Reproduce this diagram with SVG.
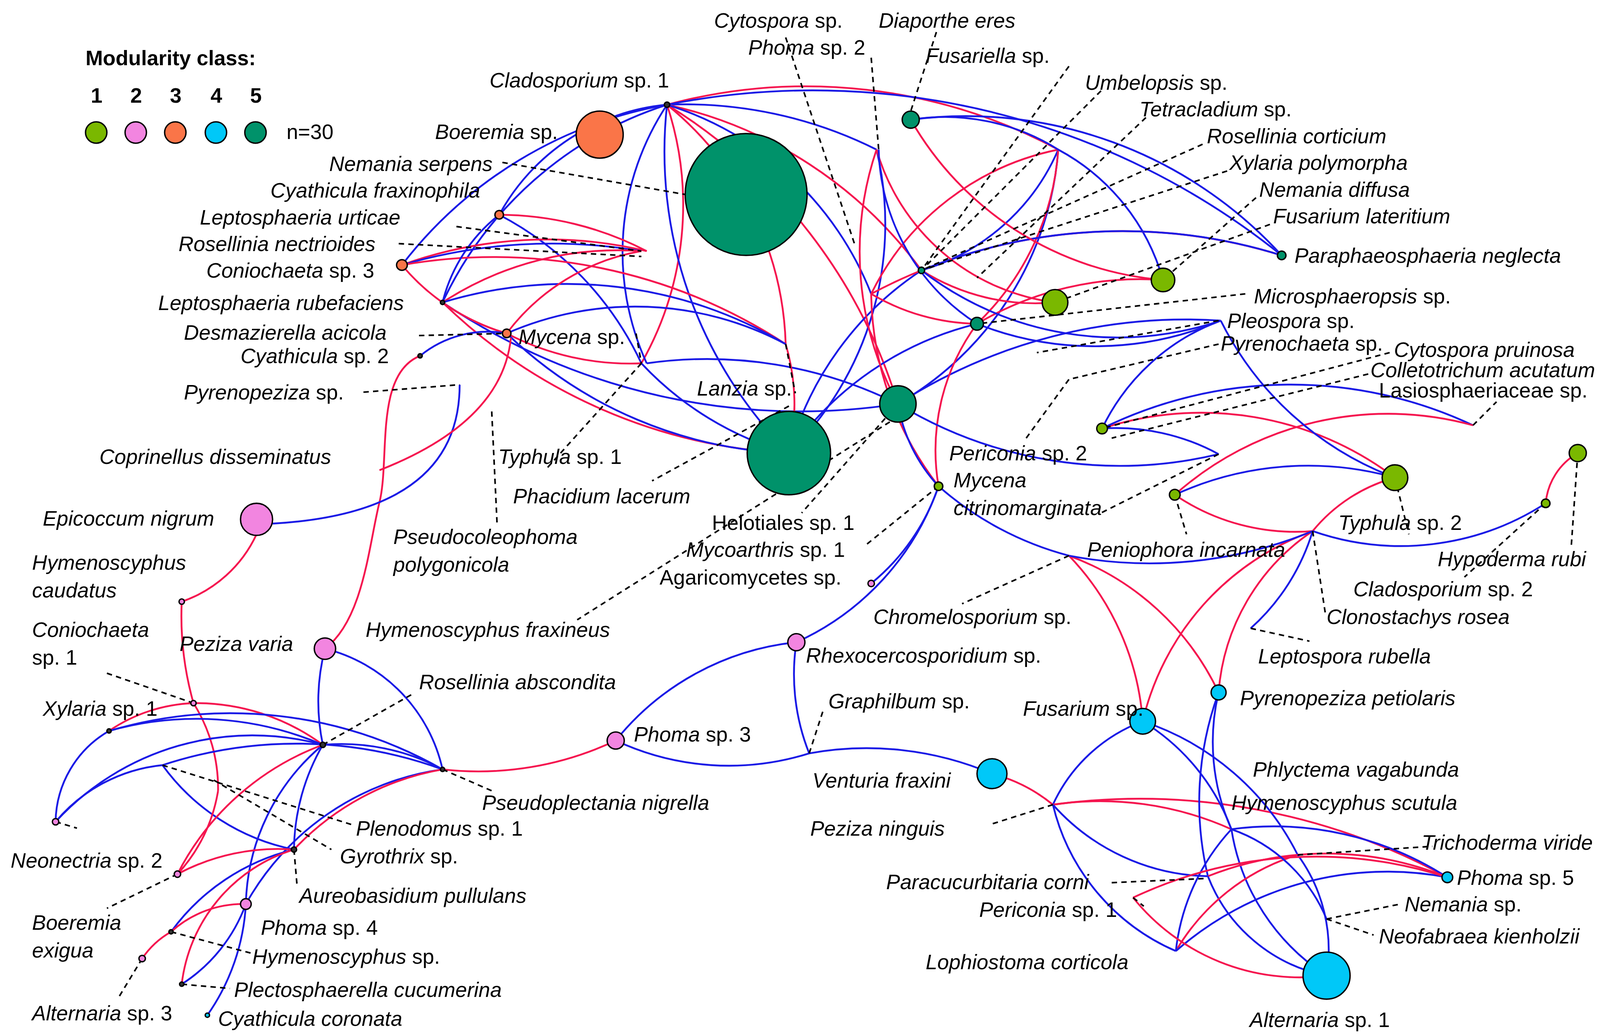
<svg xmlns="http://www.w3.org/2000/svg" width="4269" height="2653" viewBox="0 0 4269 2653">
<style>
text{font-family:"Liberation Sans",Arial,sans-serif;font-size:19.5px;fill:#000}
.i{font-style:italic}
.b{fill:none;stroke:#1a1ae6;stroke-width:1.7}
.r{fill:none;stroke:#f5154f;stroke-width:1.7}
.d{fill:none;stroke:#000;stroke-width:1.5;stroke-dasharray:5 4}
circle{stroke:#000;stroke-width:1.3}
.c1{fill:#7ab800}.c2{fill:#f285e0}.c3{fill:#fa7548}.c4{fill:#00c8f8}.c5{fill:#00926a}.ck{fill:#333}
</style>
<rect width="4269" height="2653" fill="#fff"/>
<g transform="scale(2.7365)">
<g id="legend">
<text x="80" y="61" font-weight="bold">Modularity class:</text>
<text x="85" y="96" font-weight="bold">1</text><text x="122" y="96" font-weight="bold">2</text><text x="159" y="96" font-weight="bold">3</text><text x="197" y="96" font-weight="bold">4</text><text x="234" y="96" font-weight="bold">5</text>
<circle class="c1" cx="90" cy="124" r="10"/><circle class="c2" cx="127" cy="124" r="10"/><circle class="c3" cx="164" cy="124" r="10"/><circle class="c4" cx="202" cy="124" r="10"/><circle class="c5" cx="239" cy="124" r="10"/>
<text x="268" y="130">n=30</text>
</g>
<g id="connectors">
<path class="b" d="M624 98 A200 200 0 0 0 467 201"/>
<path class="b" d="M624 98 A400 400 0 0 0 376 248"/>
<path class="b" d="M624 98 A350 350 0 0 0 414 283"/>
<path class="r" d="M624 98 A300 300 0 0 1 600 340"/>
<path class="b" d="M624 98 A250 250 0 0 0 605 340"/>
<path class="r" d="M624 98 A300 300 0 0 1 735 322"/>
<path class="b" d="M624 98 A400 400 0 0 1 820 140"/>
<path class="r" d="M624 98 A500 500 0 0 1 990 140"/>
<path class="b" d="M624 98 A700 700 0 0 1 1199 239"/>
<path class="r" d="M624 98 A400 400 0 0 1 862 253"/>
<path class="b" d="M624 98 A400 400 0 0 0 738 424"/>
<path class="r" d="M624 98 A500 500 0 0 1 840 378"/>
<path class="b" d="M624 98 A300 300 0 0 1 815 275"/>
<path class="r" d="M467 201 A300 300 0 0 1 605 235"/>
<path class="b" d="M467 201 A300 300 0 0 1 600 340"/>
<path class="r" d="M376 248 A400 400 0 0 1 605 235"/>
<path class="b" d="M376 248 A500 500 0 0 1 600 235"/>
<path class="r" d="M376 248 A500 500 0 0 1 735 322"/>
<path class="r" d="M376 248 A200 200 0 0 0 474 312"/>
<path class="r" d="M414 283 A300 300 0 0 1 600 235"/>
<path class="b" d="M414 283 A400 400 0 0 1 735 322"/>
<path class="r" d="M414 283 A500 500 0 0 0 738 424"/>
<path class="b" d="M414 283 A600 600 0 0 0 840 378"/>
<path class="r" d="M414 283 A200 200 0 0 0 474 312"/>
<path class="r" d="M474 312 A200 200 0 0 1 600 235"/>
<path class="b" d="M474 312 A300 300 0 0 1 735 322"/>
<path class="r" d="M474 312 A250 250 0 0 0 600 340"/>
<path class="b" d="M474 312 A400 400 0 0 0 738 424"/>
<path class="b" d="M467 201 A150 150 0 0 0 414 283"/>
<path class="b" d="M393 333 A100 100 0 0 1 474 312"/>
<path class="r" d="M393 333 C350 350 365 430 355 470 S340 580 304 607"/>
<path class="b" d="M430 360 Q430 480 255 490"/>
<path class="r" d="M478 316 Q470 395 355 440"/>
<path class="b" d="M600 340 A300 300 0 0 0 738 424"/>
<path class="b" d="M605 340 A400 400 0 0 1 840 378"/>
<path class="r" d="M735 322 A200 200 0 0 1 738 424"/>
<path class="b" d="M820 140 A300 300 0 0 1 738 424"/>
<path class="b" d="M862 253 A300 300 0 0 0 738 424"/>
<path class="b" d="M914 303 A300 300 0 0 0 738 424"/>
<path class="b" d="M990 140 A300 300 0 0 1 840 378"/>
<path class="r" d="M820 140 A300 300 0 0 0 840 378"/>
<path class="r" d="M990 140 A250 250 0 0 0 815 275"/>
<path class="b" d="M990 140 A200 200 0 0 1 862 253"/>
<path class="r" d="M990 140 A250 250 0 0 1 914 303"/>
<path class="b" d="M990 140 A200 200 0 0 1 1088 262"/>
<path class="b" d="M852 112 A400 400 0 0 1 1199 239"/>
<path class="b" d="M852 112 A200 200 0 0 1 990 140"/>
<path class="r" d="M815 275 A500 500 0 0 1 1199 239"/>
<path class="b" d="M862 253 A500 500 0 0 1 1199 239"/>
<path class="r" d="M815 275 A200 200 0 0 0 914 303"/>
<path class="r" d="M862 253 A200 200 0 0 0 987 283"/>
<path class="r" d="M914 303 A300 300 0 0 1 1088 262"/>
<path class="b" d="M914 303 A300 300 0 0 0 1142 300"/>
<path class="b" d="M862 253 A300 300 0 0 0 1142 300"/>
<path class="b" d="M840 378 A500 500 0 0 1 1142 300"/>
<path class="r" d="M815 275 A300 300 0 0 0 878 455"/>
<path class="b" d="M840 378 A150 150 0 0 0 878 455"/>
<path class="r" d="M914 303 A200 200 0 0 0 878 455"/>
<path class="r" d="M820 140 A200 200 0 0 0 987 283"/>
<path class="b" d="M822 140 A200 200 0 0 0 914 303"/>
<path class="r" d="M852 112 A300 300 0 0 0 1088 262"/>
<path class="b" d="M840 378 A400 400 0 0 0 1140 425"/>
<path class="b" d="M878 455 A300 300 0 0 0 1000 520"/>
<path class="r" d="M1000 520 A250 250 0 0 1 1069 675"/>
<path class="r" d="M1000 520 A250 250 0 0 1 1140 648"/>
<path class="b" d="M878 455 A250 250 0 0 1 745 601"/>
<path class="b" d="M878 455 A200 200 0 0 1 815 546"/>
<path class="b" d="M745 601 A250 250 0 0 0 576 693"/>
<path class="b" d="M745 601 A200 200 0 0 0 757 705"/>
<path class="b" d="M576 693 A250 250 0 0 0 757 705"/>
<path class="b" d="M757 705 A300 300 0 0 1 928 724"/>
<path class="r" d="M576 693 A300 300 0 0 1 414 720"/>
<path class="r" d="M985 753 A150 150 0 0 0 928 724"/>
<path class="b" d="M985 753 A150 150 0 0 1 1069 675"/>
<path class="r" d="M1031 401 A300 300 0 0 1 1305 447"/>
<path class="b" d="M1031 401 A200 200 0 0 1 1140 425"/>
<path class="b" d="M1031 401 A400 400 0 0 1 1378 398"/>
<path class="b" d="M1099 463 A300 300 0 0 1 1305 447"/>
<path class="r" d="M1099 463 A300 300 0 0 1 1378 398"/>
<path class="r" d="M1099 463 A200 200 0 0 0 1228 497"/>
<path class="r" d="M1228 497 A150 150 0 0 1 1305 447"/>
<path class="r" d="M1228 497 A200 200 0 0 0 1140 648"/>
<path class="b" d="M1228 497 A250 250 0 0 0 1446 471"/>
<path class="r" d="M1446 471 A60 60 0 0 1 1476 424"/>
<path class="r" d="M1228 497 A250 250 0 0 0 1069 675"/>
<path class="b" d="M1142 300 A200 200 0 0 0 1031 401"/>
<path class="b" d="M1142 300 A300 300 0 0 0 1305 447"/>
<path class="b" d="M1000 520 A400 400 0 0 0 1228 497"/>
<path class="b" d="M1228 497 A200 200 0 0 1 1170 588"/>
<path class="r" d="M985 753 A300 300 0 0 1 1152 776"/>
<path class="r" d="M985 753 A600 600 0 0 1 1354 821"/>
<path class="b" d="M985 753 A200 200 0 0 0 1100 890"/>
<path class="b" d="M985 753 A200 200 0 0 0 1130 820"/>
<path class="b" d="M1069 675 A200 200 0 0 1 1152 776"/>
<path class="b" d="M1069 675 A250 250 0 0 1 1214 800"/>
<path class="b" d="M1140 648 A200 200 0 0 0 1152 776"/>
<path class="b" d="M1140 648 A300 300 0 0 0 1130 820"/>
<path class="b" d="M1152 776 A300 300 0 0 1 1354 821"/>
<path class="b" d="M1152 776 A200 200 0 0 0 1241 913"/>
<path class="r" d="M1130 820 A300 300 0 0 1 1354 821"/>
<path class="b" d="M1130 820 A150 150 0 0 0 1241 913"/>
<path class="r" d="M1100 890 A200 200 0 0 1 1214 800"/>
<path class="b" d="M1100 890 A300 300 0 0 1 1354 821"/>
<path class="b" d="M1214 800 A150 150 0 0 1 1241 913"/>
<path class="b" d="M1152 776 A200 200 0 0 0 1100 890"/>
<path class="r" d="M1060 840 A200 200 0 0 0 1241 913"/>
<path class="r" d="M1060 840 A400 400 0 0 1 1354 821"/>
<path class="b" d="M1152 776 A150 150 0 0 1 1241 860"/>
<path class="b" d="M304 607 A200 200 0 0 0 302 697"/>
<path class="b" d="M304 607 A150 150 0 0 1 414 720"/>
<path class="b" d="M302 697 A200 200 0 0 1 414 720"/>
<path class="r" d="M181 658 A150 150 0 0 0 102 684"/>
<path class="r" d="M181 658 A200 200 0 0 1 302 697"/>
<path class="r" d="M181 658 A150 150 0 0 1 204 740"/>
<path class="b" d="M102 684 A100 100 0 0 0 52 769"/>
<path class="b" d="M102 684 A300 300 0 0 1 302 697"/>
<path class="b" d="M102 684 A400 400 0 0 1 414 720"/>
<path class="b" d="M52 769 A250 250 0 0 1 302 697"/>
<path class="b" d="M152 716 A400 400 0 0 1 414 720"/>
<path class="b" d="M152 716 A200 200 0 0 0 275 795"/>
<path class="b" d="M302 697 A200 200 0 0 0 275 795"/>
<path class="b" d="M302 697 A200 200 0 0 0 230 846"/>
<path class="b" d="M414 720 A250 250 0 0 0 230 846"/>
<path class="r" d="M414 720 A250 250 0 0 0 275 795"/>
<path class="r" d="M275 795 A200 200 0 0 0 166 818"/>
<path class="b" d="M275 795 A200 200 0 0 0 160 872"/>
<path class="r" d="M230 846 A100 100 0 0 0 160 872"/>
<path class="b" d="M230 846 A200 200 0 0 1 194 950"/>
<path class="b" d="M230 846 A150 150 0 0 1 170 921"/>
<path class="r" d="M160 872 A80 80 0 0 0 133 897"/>
<path class="r" d="M170 563 A300 300 0 0 0 181 658"/>
<path class="r" d="M240 500 A120 120 0 0 1 170 563"/>
<path class="r" d="M166 818 A150 150 0 0 0 204 740"/>
<path class="r" d="M166 818 A250 250 0 0 1 302 697"/>
<path class="b" d="M52 769 A150 150 0 0 1 152 716"/>
<path class="r" d="M275 795 A150 150 0 0 0 170 921"/>
<path class="d" d="M470 152 L641 182"/>
<path class="d" d="M427 212 L600 235"/>
<path class="d" d="M373 228 L600 240"/>
<path class="d" d="M392 314 L474 312"/>
<path class="d" d="M340 367 L430 360"/>
<path class="d" d="M460 385 L465 490"/>
<path class="d" d="M735 35 L800 230"/>
<path class="d" d="M815 54 L822 140"/>
<path class="d" d="M876 30 L852 104"/>
<path class="d" d="M1000 62 L862 253"/>
<path class="d" d="M1030 85 L862 253"/>
<path class="d" d="M1072 110 L914 260"/>
<path class="d" d="M1125 135 L862 253"/>
<path class="d" d="M1148 160 L862 253"/>
<path class="d" d="M1175 185 L1088 262"/>
<path class="d" d="M1188 210 L987 283"/>
<path class="d" d="M1165 275 L914 303"/>
<path class="d" d="M1140 300 L970 330"/>
<path class="d" d="M1140 322 L1000 355"/>
<path class="d" d="M1300 330 L1031 401"/>
<path class="d" d="M1280 350 L1040 410"/>
<path class="d" d="M1378 398 L1400 376"/>
<path class="d" d="M1000 355 L960 410"/>
<path class="d" d="M1140 425 L1030 480"/>
<path class="d" d="M1305 447 L1318 500"/>
<path class="d" d="M1476 424 L1470 510"/>
<path class="d" d="M1446 471 L1370 540"/>
<path class="d" d="M1228 497 L1240 575"/>
<path class="d" d="M1099 463 L1110 500"/>
<path class="d" d="M1000 520 L900 565"/>
<path class="d" d="M1170 588 L1225 600"/>
<path class="d" d="M600 340 L510 440"/>
<path class="d" d="M595 312 L600 340"/>
<path class="d" d="M735 322 L744 368"/>
<path class="d" d="M738 380 L610 450"/>
<path class="d" d="M840 378 L750 480"/>
<path class="d" d="M840 390 L540 580"/>
<path class="d" d="M878 455 L810 510"/>
<path class="d" d="M757 705 L770 665"/>
<path class="d" d="M100 630 L181 658"/>
<path class="d" d="M302 697 L385 650"/>
<path class="d" d="M414 720 L460 740"/>
<path class="d" d="M152 716 L330 772"/>
<path class="d" d="M200 730 L310 795"/>
<path class="d" d="M275 795 L278 830"/>
<path class="d" d="M166 818 L100 850"/>
<path class="d" d="M160 872 L235 892"/>
<path class="d" d="M133 897 L110 935"/>
<path class="d" d="M170 921 L215 925"/>
<path class="d" d="M52 769 L72 775"/>
<path class="d" d="M985 753 L925 772"/>
<path class="d" d="M1040 826 L1130 822"/>
<path class="d" d="M1060 840 L1070 848"/>
<path class="d" d="M1214 800 L1340 792"/>
<path class="d" d="M1241 860 L1310 846"/>
<path class="d" d="M1241 860 L1285 875"/>
</g>
<g id="nodes">
<circle class="ck" cx="624" cy="98" r="2.5"/>
<circle class="c3" cx="561" cy="126" r="22"/>
<circle class="c5" cx="698" cy="182" r="57"/>
<circle class="c3" cx="467" cy="201" r="4"/>
<circle class="c3" cx="376" cy="248" r="5"/>
<circle class="ck" cx="414" cy="283" r="2"/>
<circle class="c3" cx="474" cy="312" r="4"/>
<circle class="ck" cx="393" cy="333" r="2"/>
<circle class="c2" cx="240" cy="486" r="15"/>
<circle class="c2" cx="170" cy="563" r="2.5"/>
<circle class="c2" cx="304" cy="607" r="10"/>
<circle class="c2" cx="181" cy="658" r="2.5"/>
<circle class="ck" cx="102" cy="684" r="2"/>
<circle class="c2" cx="52" cy="769" r="3"/>
<circle class="ck" cx="302" cy="697" r="2.5"/>
<circle class="ck" cx="414" cy="720" r="2"/>
<circle class="ck" cx="275" cy="795" r="2.5"/>
<circle class="c2" cx="166" cy="818" r="3"/>
<circle class="c2" cx="230" cy="846" r="5"/>
<circle class="ck" cx="160" cy="872" r="2"/>
<circle class="c2" cx="133" cy="897" r="3"/>
<circle class="ck" cx="170" cy="921" r="2"/>
<circle class="c4" cx="194" cy="950" r="2"/>
<circle class="c2" cx="576" cy="693" r="8"/>
<circle class="c2" cx="745" cy="601" r="8"/>
<circle class="c2" cx="815" cy="546" r="3"/>
<circle class="c5" cx="738" cy="424" r="39"/>
<circle class="c5" cx="840" cy="378" r="17"/>
<circle class="c1" cx="878" cy="455" r="4"/>
<circle class="c5" cx="852" cy="112" r="8"/>
<circle class="c5" cx="862" cy="253" r="3"/>
<circle class="c5" cx="1199" cy="239" r="4"/>
<circle class="c1" cx="987" cy="283" r="12"/>
<circle class="c1" cx="1088" cy="262" r="11"/>
<circle class="c5" cx="914" cy="303" r="6"/>
<circle class="c1" cx="1031" cy="401" r="5"/>
<circle class="c1" cx="1099" cy="463" r="5"/>
<circle class="c1" cx="1305" cy="447" r="12"/>
<circle class="c1" cx="1476" cy="424" r="8"/>
<circle class="c1" cx="1446" cy="471" r="4"/>
<circle class="c4" cx="1069" cy="675" r="12"/>
<circle class="c4" cx="1140" cy="648" r="7"/>
<circle class="c4" cx="928" cy="724" r="14"/>
<circle class="c4" cx="1354" cy="821" r="5"/>
<circle class="c4" cx="1241" cy="913" r="22"/>
</g>
<g id="labels" class="i">
<text x="458" y="82">Cladosporium<tspan font-style="normal"> sp. 1</tspan></text>
<text x="407" y="130">Boeremia<tspan font-style="normal"> sp.</tspan></text>
<text x="308" y="160">Nemania serpens</text>
<text x="253" y="185">Cyathicula fraxinophila</text>
<text x="187" y="210">Leptosphaeria urticae</text>
<text x="167" y="235">Rosellinia nectrioides</text>
<text x="193" y="260">Coniochaeta<tspan font-style="normal"> sp. 3</tspan></text>
<text x="148" y="290">Leptosphaeria rubefaciens</text>
<text x="172" y="318">Desmazierella acicola</text>
<text x="485" y="322">Mycena<tspan font-style="normal"> sp.</tspan></text>
<text x="225" y="340">Cyathicula<tspan font-style="normal"> sp. 2</tspan></text>
<text x="172" y="374">Pyrenopeziza<tspan font-style="normal"> sp.</tspan></text>
<text x="93" y="434">Coprinellus disseminatus</text>
<text x="466" y="434">Typhula<tspan font-style="normal"> sp. 1</tspan></text>
<text x="652" y="370">Lanzia<tspan font-style="normal"> sp.</tspan></text>
<text x="480" y="471">Phacidium lacerum</text>
<text x="40" y="492">Epicoccum nigrum</text>
<text x="368" y="509">Pseudocoleophoma</text>
<text x="368" y="535">polygonicola</text>
<text x="30" y="533">Hymenoscyphus</text>
<text x="30" y="559">caudatus</text>
<text x="666" y="496" font-style="normal">Helotiales sp. 1</text>
<text x="642" y="521">Mycoarthris<tspan font-style="normal"> sp. 1</tspan></text>
<text x="617" y="547" font-style="normal">Agaricomycetes sp.</text>
<text x="342" y="596">Hymenoscyphus fraxineus</text>
<text x="30" y="596">Coniochaeta</text>
<text x="30" y="622" font-style="normal">sp. 1</text>
<text x="168" y="609">Peziza varia</text>
<text x="392" y="645">Rosellinia abscondita</text>
<text x="754" y="620">Rhexocercosporidium<tspan font-style="normal"> sp.</tspan></text>
<text x="775" y="663">Graphilbum<tspan font-style="normal"> sp.</tspan></text>
<text x="40" y="670">Xylaria<tspan font-style="normal"> sp. 1</tspan></text>
<text x="593" y="694">Phoma<tspan font-style="normal"> sp. 3</tspan></text>
<text x="451" y="758">Pseudoplectania nigrella</text>
<text x="333" y="782">Plenodomus<tspan font-style="normal"> sp. 1</tspan></text>
<text x="318" y="808">Gyrothrix<tspan font-style="normal"> sp.</tspan></text>
<text x="10" y="812">Neonectria<tspan font-style="normal"> sp. 2</tspan></text>
<text x="280" y="845">Aureobasidium pullulans</text>
<text x="30" y="870">Boeremia</text>
<text x="30" y="896">exigua</text>
<text x="244" y="875">Phoma<tspan font-style="normal"> sp. 4</tspan></text>
<text x="236" y="902">Hymenoscyphus<tspan font-style="normal"> sp.</tspan></text>
<text x="219" y="933">Plectosphaerella cucumerina</text>
<text x="30" y="955">Alternaria<tspan font-style="normal"> sp. 3</tspan></text>
<text x="204" y="960">Cyathicula coronata</text>
<text x="668" y="26">Cytospora<tspan font-style="normal"> sp.</tspan></text>
<text x="822" y="26">Diaporthe eres</text>
<text x="700" y="51">Phoma<tspan font-style="normal"> sp. 2</tspan></text>
<text x="866" y="59">Fusariella<tspan font-style="normal"> sp.</tspan></text>
<text x="1015" y="84">Umbelopsis<tspan font-style="normal"> sp.</tspan></text>
<text x="1066" y="109">Tetracladium<tspan font-style="normal"> sp.</tspan></text>
<text x="1129" y="134">Rosellinia corticium</text>
<text x="1150" y="159">Xylaria polymorpha</text>
<text x="1178" y="184">Nemania diffusa</text>
<text x="1191" y="209">Fusarium lateritium</text>
<text x="1211" y="246">Paraphaeosphaeria neglecta</text>
<text x="1173" y="284">Microsphaeropsis<tspan font-style="normal"> sp.</tspan></text>
<text x="1148" y="307">Pleospora<tspan font-style="normal"> sp.</tspan></text>
<text x="1142" y="328">Pyrenochaeta<tspan font-style="normal"> sp.</tspan></text>
<text x="1304" y="334">Cytospora pruinosa</text>
<text x="1282" y="353">Colletotrichum acutatum</text>
<text x="1290" y="372" font-style="normal">Lasiosphaeriaceae sp.</text>
<text x="888" y="431">Periconia<tspan font-style="normal"> sp. 2</tspan></text>
<text x="892" y="456">Mycena</text>
<text x="892" y="482">citrinomarginata</text>
<text x="1252" y="496">Typhula<tspan font-style="normal"> sp. 2</tspan></text>
<text x="1017" y="521">Peniophora incarnata</text>
<text x="1345" y="530">Hypoderma rubi</text>
<text x="1266" y="558">Cladosporium<tspan font-style="normal"> sp. 2</tspan></text>
<text x="817" y="584">Chromelosporium<tspan font-style="normal"> sp.</tspan></text>
<text x="1241" y="584">Clonostachys rosea</text>
<text x="1177" y="621">Leptospora rubella</text>
<text x="1160" y="660">Pyrenopeziza petiolaris</text>
<text x="957" y="670">Fusarium<tspan font-style="normal"> sp.</tspan></text>
<text x="1172" y="727">Phlyctema vagabunda</text>
<text x="760" y="737">Venturia fraxini</text>
<text x="1152" y="758">Hymenoscyphus scutula</text>
<text x="758" y="782">Peziza ninguis</text>
<text x="1330" y="795">Trichoderma viride</text>
<text x="1363" y="828">Phoma<tspan font-style="normal"> sp. 5</tspan></text>
<text x="829" y="832">Paracucurbitaria corni</text>
<text x="916" y="858">Periconia<tspan font-style="normal"> sp. 1</tspan></text>
<text x="1314" y="853">Nemania<tspan font-style="normal"> sp.</tspan></text>
<text x="1290" y="883">Neofabraea kienholzii</text>
<text x="866" y="907">Lophiostoma corticola</text>
<text x="1169" y="961">Alternaria<tspan font-style="normal"> sp. 1</tspan></text>
</g>
</g>
</svg>
